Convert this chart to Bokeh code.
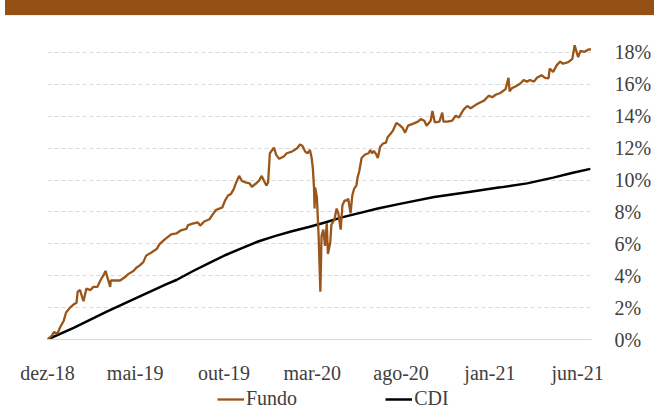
import pandas as pd
from bokeh.plotting import figure
from bokeh.models import Range1d, FixedTicker, Legend, LegendItem, Div
from bokeh.layouts import column
from bokeh.embed import file_html
from bokeh.resources import INLINE

# ---------------- data ----------------
start_date = "2018-12-01"
tick_dates = ["2018-12-01", "2019-05-01", "2019-10-01", "2020-03-01",
              "2020-08-01", "2021-01-01", "2021-06-01"]
tick_labels = ["dez-18", "mai-19", "out-19", "mar-20", "ago-20", "jan-21", "jun-21"]
y_ticks = [0, 2, 4, 6, 8, 10, 12, 14, 16, 18]
series_names = ["Fundo", "CDI"]

# days since start_date
fundo_day = [0, 8, 11, 17, 22, 28, 32, 39, 45, 50, 52, 56, 62, 67, 74, 79, 86, 91, 96, 100,
             104, 108, 109, 116, 125, 133, 139, 148, 153, 159, 165, 170, 179, 188, 193, 202,
             213, 222, 230, 239, 242, 250, 259, 263, 270, 279, 284, 290, 296, 301, 306, 311,
             316, 321, 325, 330, 335, 341, 348, 352, 358, 364, 369, 373, 377, 380, 383, 390,
             394, 399, 407, 412, 421, 430, 435, 439, 444, 448, 452, 455, 457, 459, 460, 461,
             464, 467, 470, 472, 475, 478, 481, 483, 487, 489, 494, 498, 501, 505, 508, 512,
             515, 518, 522, 525, 528, 532, 534, 537, 541, 547, 553, 556, 559, 562, 566, 569,
             573, 578, 583, 586, 591, 595, 601, 606, 612, 616, 621, 629, 638, 643, 649, 653,
             660, 663, 667, 675, 680, 682, 689, 697, 703, 709, 712, 717, 723, 729, 737, 746,
             752, 760, 766, 772, 780, 789, 794, 796, 800, 806, 815, 820, 826, 831, 838, 843,
             851, 857, 863, 865, 871, 877, 883, 888, 897, 904, 908, 914, 918, 925, 931, 936]
fundo_pct = [0.00, 0.26, 0.47, 0.37, 0.78, 1.18, 1.69, 2.00, 2.20, 2.30, 3.00, 3.10, 2.40, 3.20,
             3.10, 3.30, 3.30, 3.70, 4.00, 4.30, 3.80, 3.30, 3.70, 3.70, 3.70, 3.90, 4.10, 4.30,
             4.50, 4.65, 4.85, 5.26, 5.46, 5.67, 5.98, 6.28, 6.59, 6.65, 6.85, 6.93, 7.17, 7.26,
             7.34, 7.14, 7.40, 7.54, 7.81, 8.12, 8.21, 8.28, 8.73, 9.03, 9.13, 9.44, 9.85, 10.26,
             9.94, 9.85, 9.79, 9.58, 9.75, 9.94, 10.26, 9.94, 9.65, 9.85, 11.68, 12.03, 11.58,
             11.33, 11.48, 11.68, 11.78, 11.99, 12.23, 12.15, 11.78, 11.68, 11.88, 11.38, 10.76,
             9.54, 8.21, 9.54, 8.93, 6.48, 3.00, 6.48, 6.89, 5.87, 7.30, 5.36, 6.07, 7.20, 7.50,
             8.21, 7.91, 6.89, 8.42, 8.73, 8.70, 8.83, 7.91, 9.03, 9.44, 9.65, 10.15, 10.55,
             11.38, 11.60, 11.68, 11.88, 11.68, 11.82, 11.62, 11.38, 12.09, 12.29, 12.35, 12.70,
             12.90, 13.10, 13.58, 13.46, 13.25, 12.97, 13.41, 13.52, 13.66, 13.82, 13.72, 13.41,
             13.72, 14.33, 13.62, 13.66, 14.23, 13.66, 13.66, 13.72, 14.03, 13.92, 14.13, 14.43,
             14.64, 14.50, 14.70, 14.88, 14.98, 15.29, 15.19, 15.35, 15.46, 15.70, 16.41, 15.56,
             15.76, 15.86, 16.07, 16.27, 16.17, 16.27, 16.17, 16.41, 16.57, 16.41, 16.37, 16.98,
             16.78, 17.19, 17.43, 17.29, 17.39, 17.60, 18.45, 17.70, 18.10, 18.04, 18.17, 18.20]

cdi_day = [0, 45, 102, 159, 205, 222, 250, 279, 307, 336, 364, 393, 421, 450, 478, 507,
           535, 569, 609, 666, 723, 780, 826, 871, 905, 935]
cdi_pct = [0.00, 0.73, 1.75, 2.71, 3.47, 3.73, 4.28, 4.81, 5.30, 5.75, 6.16, 6.50, 6.79,
           7.05, 7.34, 7.66, 7.91, 8.21, 8.52, 8.93, 9.24, 9.54, 9.79, 10.15, 10.46, 10.70]

# ---------------- styling ----------------
FONT = "Liberation Serif"
TEXT = "#404040"
BROWN = "#9A5519"
GRID = "#d9d9d9"

base = pd.Timestamp(start_date)
tick_days = [(pd.Timestamp(d) - base).days for d in tick_dates]

p = figure(width=647, height=370, output_backend="svg", toolbar_location=None,
           x_range=Range1d(0, 937), y_range=Range1d(0, 19),
           y_axis_location="right", margin=(0, 0, 0, 7),
           min_border_left=40, min_border_right=59, min_border_top=20, min_border_bottom=40)
p.outline_line_color = None
p.background_fill_color = "white"
p.border_fill_color = "white"

p.xgrid.visible = False
p.ygrid.ticker = FixedTicker(ticks=y_ticks)
p.ygrid.grid_line_color = GRID
p.ygrid.grid_line_dash = "4 3"
p.ygrid.grid_line_width = 1

ya = p.yaxis[0]
ya.ticker = FixedTicker(ticks=y_ticks)
ya.major_label_overrides = {t: f"{t}%" for t in y_ticks}
ya.axis_line_color = None
ya.major_tick_line_color = None
ya.minor_tick_line_color = None
ya.major_label_standoff = 17
ya.major_label_text_font = FONT
ya.major_label_text_font_size = "20px"
ya.major_label_text_color = TEXT

xa = p.xaxis[0]
xa.ticker = FixedTicker(ticks=tick_days)
xa.major_label_overrides = {d: l for d, l in zip(tick_days, tick_labels)}
xa.axis_line_color = GRID
xa.axis_line_width = 1
xa.major_tick_line_color = None
xa.minor_tick_line_color = None
xa.major_label_standoff = 16
xa.major_label_text_font = FONT
xa.major_label_text_font_size = "20px"
xa.major_label_text_color = TEXT

p.line(cdi_day, cdi_pct, line_color="black", line_width=2.5)
p.line(fundo_day, fundo_pct, line_color=BROWN, line_width=2.3)

# legend strip (separate small figure so the legend is not clipped);
# its ranges keep the series themselves out of view, only the legend shows
lf = figure(width=647, height=24, output_backend="svg", toolbar_location=None,
            x_range=Range1d(0, 1), y_range=Range1d(100, 101), margin=(0, 0, 0, 7),
            min_border=0, min_border_left=0, min_border_right=0,
            min_border_top=0, min_border_bottom=0)
lf.axis.visible = False
lf.grid.visible = False
lf.outline_line_color = None
lf.border_fill_color = "white"
lg_f = lf.line(fundo_day, fundo_pct, line_color=BROWN, line_width=2.3)
lg_c = lf.line(cdi_day, cdi_pct, line_color="black", line_width=2.5)
legend = Legend(items=[LegendItem(label=series_names[0], renderers=[lg_f]),
                       LegendItem(label=series_names[1], renderers=[lg_c])],
                location=(170, 0), orientation="horizontal",
                glyph_width=27, glyph_height=20, label_height=20, label_standoff=2,
                spacing=88, padding=2, margin=0,
                border_line_color=None, background_fill_alpha=0,
                label_text_font=FONT, label_text_font_size="20px", label_text_color=TEXT)
lf.add_layout(legend)

band = Div(text="", width=649, height=15, margin=(0, 0, 0, 5),
           styles={"background-color": "#945014"})
top_line = Div(text="", width=649, height=1, margin=(0, 0, 0, 5),
               styles={"background-color": "#ececec"})

layout = column(band, top_line, p, lf, spacing=0)

open("out.html", "w").write(file_html(layout, INLINE))
